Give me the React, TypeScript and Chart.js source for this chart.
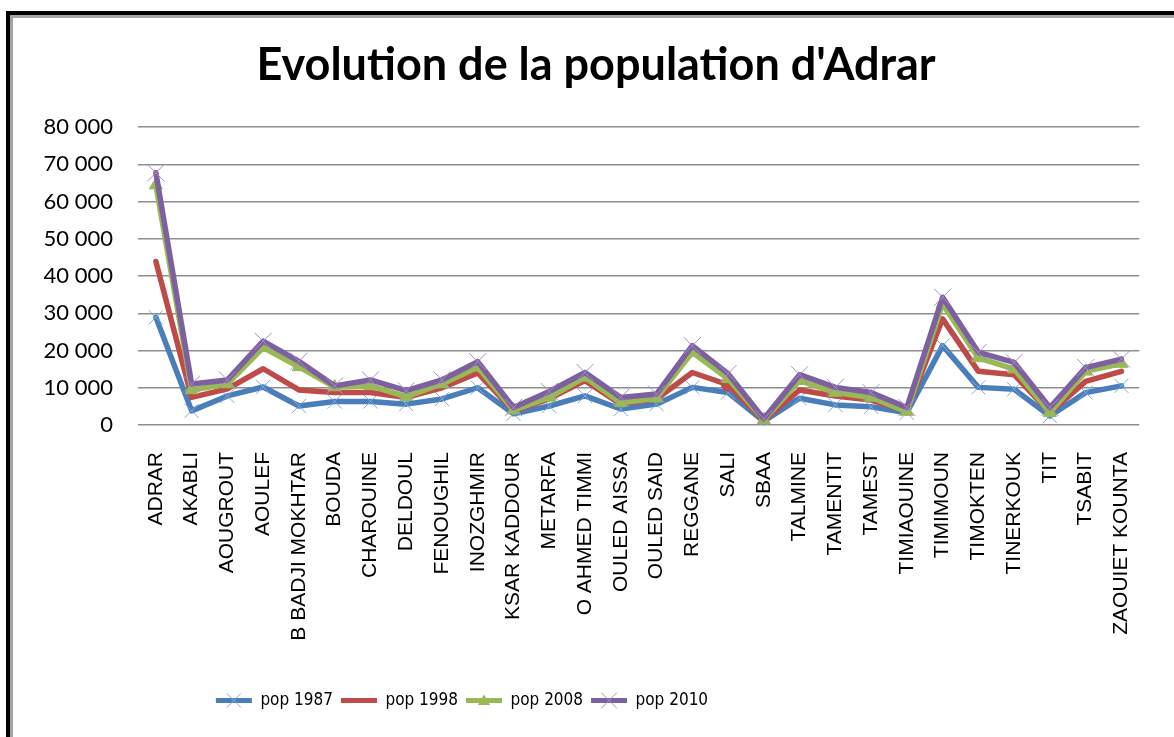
import React, { useEffect, useRef } from 'react';
import { Chart, registerables } from 'chart.js';

Chart.register(...registerables);

const categories = [
  'ADRAR', 'AKABLI', 'AOUGROUT', 'AOULEF', 'B BADJI MOKHTAR', 'BOUDA', 'CHAROUINE',
  'DELDOUL', 'FENOUGHIL', 'INOZGHMIR', 'KSAR KADDOUR', 'METARFA', 'O AHMED TIMMI',
  'OULED AISSA', 'OULED SAID', 'REGGANE', 'SALI', 'SBAA', 'TALMINE', 'TAMENTIT',
  'TAMEST', 'TIMIAOUINE', 'TIMIMOUN', 'TIMOKTEN', 'TINERKOUK', 'TIT', 'TSABIT',
  'ZAOUIET KOUNTA',
];

const pop1987 = [28900, 3800, 7800, 10200, 5100, 6300, 6300, 5600, 7000, 10000, 3000, 5100, 7800, 4300, 5600, 10100, 8700, 1000, 7200, 5400, 4900, 3300, 21300, 10100, 9600, 2400, 8700, 10500];
const pop1998 = [43900, 7400, 9700, 15100, 9400, 8700, 8700, 7400, 10000, 14000, 3800, 7000, 11900, 5600, 7000, 14100, 10800, 1200, 9400, 7800, 6700, 3800, 28500, 14400, 13500, 3300, 11700, 14400];
const pop2008 = [64400, 9400, 11000, 20800, 15600, 10200, 10500, 7600, 11000, 15500, 4000, 7400, 12800, 6000, 7200, 19500, 12400, 1400, 11900, 8700, 7400, 3600, 32500, 18000, 15000, 3300, 14400, 16500];
const pop2010 = [67700, 11000, 12100, 22500, 17100, 10500, 12100, 9200, 12100, 17000, 4700, 9000, 14100, 7400, 8300, 21300, 13800, 1700, 13500, 10100, 8700, 4700, 34300, 19500, 16800, 4700, 15400, 17700];

const seriesNames = ['pop 1987', 'pop 1998', 'pop 2008', 'pop 2010'];
const titleText = "Evolution de la population d'Adrar";
const yMin = 0;
const yMax = 80000;
const yStep = 10000;

const lineColors = ['#4A7EBB', '#BE4B48', '#98B954', '#7D60A0'];
const markerColors = ['#7FA9DE', '#BE4B48', '#98B954', '#A38DC4'];

const LEGEND_CENTER = 462;
const TITLE_CENTER = 596;

function drawCrossRot(ctx: CanvasRenderingContext2D, x: number, y: number, r: number, color: string) {
  const o = Math.cos(Math.PI / 4) * r;
  ctx.save();
  ctx.strokeStyle = color;
  ctx.lineWidth = 1;
  ctx.beginPath();
  ctx.moveTo(x - o, y - o);
  ctx.lineTo(x + o, y + o);
  ctx.moveTo(x + o, y - o);
  ctx.lineTo(x - o, y + o);
  ctx.stroke();
  ctx.restore();
}

function drawTriangle(ctx: CanvasRenderingContext2D, x: number, y: number, r: number, color: string) {
  ctx.save();
  ctx.fillStyle = color;
  ctx.beginPath();
  for (let k = 0; k < 3; k++) {
    const a = -Math.PI / 2 + (k * 2 * Math.PI) / 3;
    const px = x + Math.cos(a) * r;
    const py = y + Math.sin(a) * r;
    if (k === 0) ctx.moveTo(px, py);
    else ctx.lineTo(px, py);
  }
  ctx.closePath();
  ctx.fill();
  ctx.restore();
}

const layoutPlugin = {
  id: 'layoutTweaks',
  afterLayout(chart: any) {
    const lg = chart.legend;
    if (lg) {
      const d = LEGEND_CENTER - (lg.left + lg.right) / 2;
      lg.left += d;
      lg.right += d;
    }
    const t = chart.titleBlock;
    if (t) {
      const d = TITLE_CENTER - (t.left + t.right) / 2;
      t.left += d;
      t.right += d;
    }
  },
  afterDraw(chart: any) {
    const lg = chart.legend;
    if (!lg || !lg.legendHitBoxes) return;
    const ctx = chart.ctx as CanvasRenderingContext2D;
    lg.legendHitBoxes.forEach((hb: any, i: number) => {
      const cx = hb.left + 18;
      const cy = hb.top + hb.height / 2;
      if (i === 0) drawCrossRot(ctx, cx, cy, 10, markerColors[0]);
      if (i === 2) drawTriangle(ctx, cx, cy + 1, 7, markerColors[2]);
      if (i === 3) drawCrossRot(ctx, cx, cy, 11, markerColors[3]);
    });
  },
};

export default function App() {
  const ref = useRef<HTMLCanvasElement>(null);

  useEffect(() => {
    document.body.style.margin = '0';
    document.body.style.overflow = 'hidden';
    document.documentElement.style.overflow = 'hidden';
    const canvas = ref.current;
    if (!canvas) return;

    const series = [pop1987, pop1998, pop2008, pop2010];
    const pointStyles: any[] = ['crossRot', 'circle', 'triangle', 'crossRot'];
    const radii: any[] = [
      10,
      categories.map((_, i) => (i === 16 ? 6.5 : 0)),
      7.5,
      12,
    ];

    const chart = new Chart(canvas, {
      type: 'line',
      data: {
        labels: categories,
        datasets: series.map((d, i) => ({
          label: seriesNames[i],
          data: d,
          borderColor: lineColors[i],
          backgroundColor: lineColors[i],
          borderWidth: 5.5,
          borderJoinStyle: 'round' as const,
          borderCapStyle: 'round' as const,
          tension: 0,
          fill: false,
          pointStyle: pointStyles[i],
          pointRadius: radii[i],
          pointBorderWidth: 1,
          pointBorderColor: markerColors[i],
          pointBackgroundColor: markerColors[i],
          order: 4 - i,
        })),
      },
      options: {
        responsive: false,
        animation: false,
        events: [],
        layout: { padding: { left: 10, right: 22, top: 0, bottom: 18 } },
        plugins: {
          tooltip: { enabled: false },
          title: {
            display: true,
            text: titleText,
            color: '#000',
            font: { family: 'Lato', weight: 'bold', size: 45, lineHeight: 1.2 },
            padding: { top: 38, bottom: 35 },
          },
          legend: {
            display: true,
            position: 'bottom',
            labels: {
              color: '#000',
              font: { family: "'DejaVu Sans Condensed', Lato", size: 17 },
              boxWidth: 36,
              boxHeight: 5,
              padding: 8,
              generateLabels: () =>
                seriesNames.map((n, i) => ({
                  text: n,
                  fillStyle: lineColors[i],
                  strokeStyle: lineColors[i],
                  lineWidth: 0,
                  hidden: false,
                  datasetIndex: i,
                  fontColor: '#000',
                })),
            },
          },
        },
        scales: {
          x: {
            type: 'category',
            offset: true,
            grid: { display: false, drawTicks: false },
            border: { display: false },
            ticks: {
              autoSkip: false,
              maxRotation: 90,
              minRotation: 90,
              padding: 27,
              color: '#000',
              font: { family: "'Liberation Sans', Arial", size: 21 },
            },
            afterFit: (scale: any) => {
              scale.height = 259;
            },
          },
          y: {
            min: yMin,
            max: yMax,
            grid: { color: '#8e8e8e', lineWidth: 1.5, drawTicks: false },
            border: { display: false },
            ticks: {
              stepSize: yStep,
              padding: 25,
              color: '#000',
              font: { family: 'Lato', size: 22 },
              callback: (v: any) => {
                const n = Number(v);
                if (n === 0) return '0';
                const s = String(n);
                return s.slice(0, s.length - 3) + ' ' + s.slice(s.length - 3);
              },
            },
            afterFit: (scale: any) => {
              scale.width = 128;
            },
          },
        },
      },
      plugins: [layoutPlugin],
    });

    return () => chart.destroy();
  }, []);

  return (
    <div style={{ position: 'fixed', left: 0, top: 0, width: 1174, height: 737, background: '#fff', overflow: 'hidden' }}>
      <div style={{ position: 'absolute', left: 6, top: 11, width: 1300, height: 900, borderLeft: '4px solid #000', borderTop: '4px solid #000' }}>
        <div style={{ position: 'absolute', left: 0, top: 0, right: 0, bottom: 0, borderLeft: '3px solid #a3a3a3', borderTop: '3px solid #a3a3a3' }} />
      </div>
      <canvas ref={ref} width={1174} height={737} style={{ position: 'absolute', left: 0, top: 0 }} />
    </div>
  );
}
